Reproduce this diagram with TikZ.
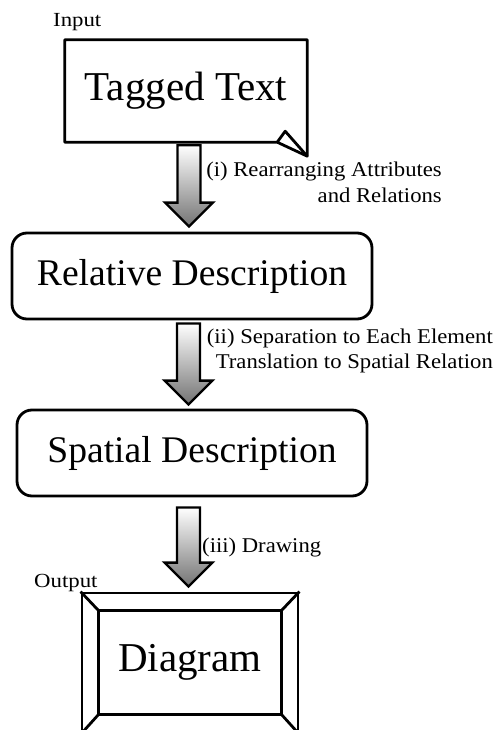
\documentclass[tikz,border=0pt]{standalone}
\usepackage{fontspec}
\setmainfont{Liberation Serif}
\newfontfamily\steptextfont{Liberation Serif}[FakeStretch=1.08]
\newfontfamily\endtextfont{Liberation Serif}[FakeStretch=1.14]
\usetikzlibrary{calc}

\tikzset{
  boxline/.style={line width=2.8pt, line join=round},
  stagebox/.style={boxline, draw, rounded corners=15pt, inner sep=0pt,
    font=\fontsize{37.6}{42}\selectfont},
  plainbox/.style={inner sep=0pt, font=\fontsize{41}{46}\selectfont},
  steplabel/.style={inner sep=0pt, font=\steptextfont\fontsize{21}{25}\selectfont},
  sidelabel/.style={inner sep=0pt, font=\endtextfont\fontsize{20}{24}\selectfont},
  flowarrow/.style={draw, line width=2.3pt, line join=miter,
    top color=white, bottom color=black!55},
}

% block arrow from the bottom of #1 to the top of #2, centred at x=#3
\newcommand\flowarrowbetween[5]{%
  \path[flowarrow] let \p1=(#1.south), \p2=(#2.north) in
    ({#3-11.5pt},{\y1-#4}) -- ({#3+11.5pt},{\y1-#4}) --
    ({#3+11.5pt},{\y2+#5+24pt}) -- ({#3+24pt},{\y2+#5+24pt}) --
    (#3,{\y2+#5}) -- ({#3-24pt},{\y2+#5+24pt}) --
    ({#3-11.5pt},{\y2+#5+24pt}) -- cycle;}

\begin{document}
\begin{tikzpicture}[x=1pt,y=-1pt]
\useasboundingbox (0,0) rectangle (495,730);

% input document with a curled corner
\node[plainbox, minimum width=242pt, minimum height=102pt] (tagged) at (186,91) {Tagged Text};
\draw[boxline] (tagged.south west) -- (tagged.north west) -- (tagged.north east)
  -- ($(tagged.south east)+(0,14)$) -- ($(tagged.south east)+(-30,0)$) -- cycle;
\draw[boxline] ($(tagged.south east)+(-30,0)$) -- ($(tagged.south east)+(-22,-11)$)
  -- ($(tagged.south east)+(0,14)$);
\node[sidelabel, anchor=base west] (inlabel) at (53,27) {Input};

% intermediate descriptions
\node[stagebox, minimum width=360pt, minimum height=86pt] (relative) at (192,276) {Relative Description};
\node[stagebox, minimum width=350pt, minimum height=86pt] (spatial) at (192,453) {Spatial Description};

% output picture frame, running off the lower edge
\node[plainbox, draw, boxline, minimum width=216pt, minimum height=140pt] (diagram) at (190,663) {};
\coordinate (innernw) at ($(diagram.north west)+(18,19)$);
\coordinate (innerne) at ($(diagram.north east)+(-18,19)$);
\coordinate (innerse) at ($(diagram.south east)+(-18,-20)$);
\coordinate (innersw) at ($(diagram.south west)+(18,-20)$);
\draw[boxline] (innernw) rectangle (innerse);
\draw[boxline] (diagram.north west) -- (innernw) (diagram.north east) -- (innerne)
  (diagram.south east) -- (innerse) (diagram.south west) -- (innersw);
\node[plainbox] (diagtext) at ($(innernw)!0.5!(innerse)$) {Diagram};
\node[sidelabel, anchor=base west] (outlabel) at (34,587) {Output};

% processing steps
\flowarrowbetween{tagged}{relative}{189pt}{3pt}{5pt}
\flowarrowbetween{relative}{spatial}{188.5pt}{3pt}{4pt}
\flowarrowbetween{spatial}{diagram}{188.5pt}{10pt}{5pt}

\node[steplabel, anchor=base east] (stepia) at (442,177) {(i) Rearranging Attributes};
\node[steplabel, anchor=base east] (stepib) at (442,202) {and Relations};
\node[steplabel, anchor=base east] (stepiia) at (493,343) {(ii) Separation to Each Element};
\node[steplabel, anchor=base east] (stepiib) at (493,368) {Translation to Spatial Relation};
\node[steplabel, anchor=base west] (stepiii) at (202,552) {(iii) Drawing};
\end{tikzpicture}
\end{document}
